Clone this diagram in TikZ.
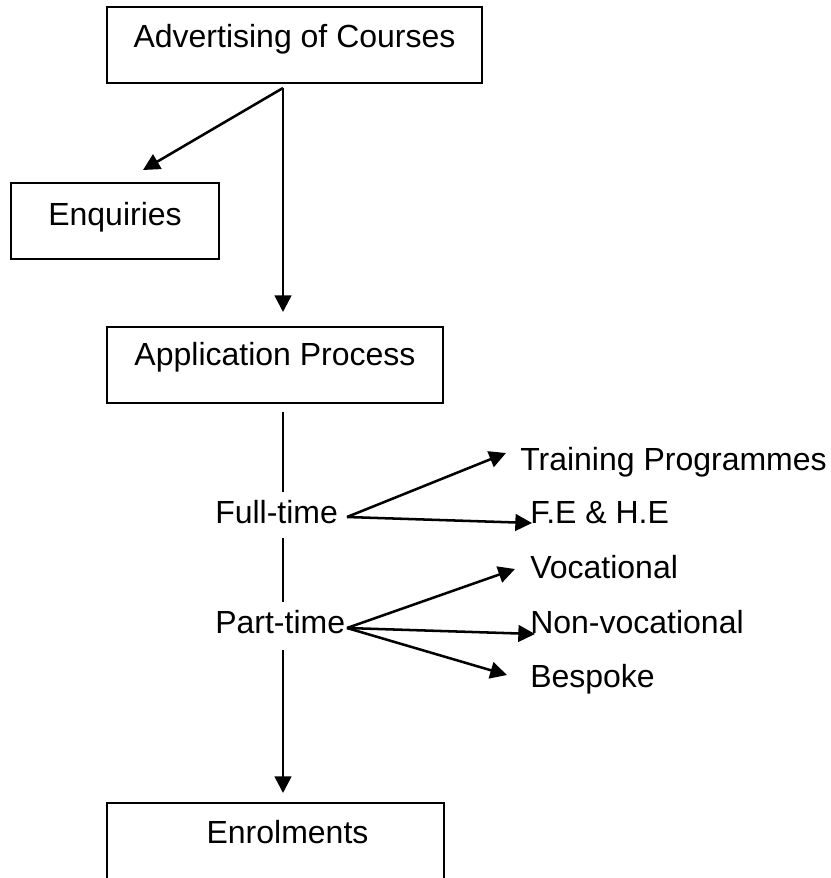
\documentclass[tikz,border=0pt]{standalone}
\usepackage{fontspec}
\setmainfont{Liberation Sans}
\usetikzlibrary{arrows.meta}
\tikzset{
  boxnode/.style={draw, line width=1.3pt, inner sep=0pt, anchor=base, font=\fontsize{24}{28}\selectfont},
  lbl/.style={inner sep=0pt, anchor=base west, font=\fontsize{24}{28}\selectfont},
  arr/.style={line width=1.9pt, -{Triangle[length=12.5pt,width=12.5pt]}},
  plain/.style={line width=1.1pt}
}
\begin{document}
\begin{tikzpicture}[x=0.75pt,y=-0.75pt]
\useasboundingbox (0,0) rectangle (831,878);
\clip (0,0) rectangle (831,878);
% boxes
\node[boxnode, minimum width=281.25pt, text height=30pt, text depth=27pt] (adv) at (294.5,47) {Advertising of Courses};
\node[boxnode, minimum width=156pt, text height=31.5pt, text depth=25.5pt] (enq) at (115,225) {Enquiries};
\node[boxnode, minimum width=252pt, text height=28.5pt, text depth=28.5pt] (app) at (275,365) {Application Process};
\node[boxnode, minimum width=252.75pt, text height=30pt, text depth=32pt] (enr) at (275.5,843) {\hspace*{18pt}Enrolments};
% labels
\node[lbl] (ft) at (215,523) {Full-time};
\node[lbl] (pt) at (215,633) {Part-time};
\node[lbl] (tp) at (520,470) {Training Programmes};
\node[lbl] (fe) at (530,523) {F.E \& H.E};
\node[lbl] (voc) at (530,578) {Vocational};
\node[lbl] (nv) at (530,633) {Non-vocational};
\node[lbl] (bes) at (530,687) {Bespoke};
% coordinates
\coordinate (advO) at (283,88);
\coordinate (enqT) at (143,170);
\coordinate (appT) at (283,312);
\coordinate (l1a) at (283,412);
\coordinate (l1b) at (283,492);
\coordinate (l2a) at (283,538);
\coordinate (l2b) at (283,602);
\coordinate (l3a) at (283,650);
\coordinate (enrT) at (283,793);
\coordinate (ftO) at (347,517);
\coordinate (tpT) at (506,453);
\coordinate (feT) at (532,523);
\coordinate (ptO) at (347,628);
\coordinate (vocT) at (515,569);
\coordinate (nvT) at (535,634);
\coordinate (besT) at (507,675);
% connectors
\draw[arr] (advO) -- (enqT);
\draw[arr] (advO) -- (appT);
\draw[plain] (l1a) -- (l1b);
\draw[plain] (l2a) -- (l2b);
\draw[arr] (l3a) -- (enrT);
\draw[arr] (ftO) -- (tpT);
\draw[arr] (ftO) -- (feT);
\draw[arr] (ptO) -- (vocT);
\draw[arr] (ptO) -- (nvT);
\draw[arr] (ptO) -- (besT);
\end{tikzpicture}
\end{document}
